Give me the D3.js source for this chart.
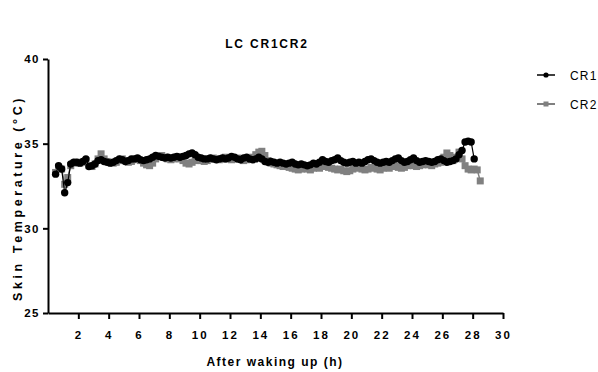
<!DOCTYPE html>
<html>
<head>
<meta charset="utf-8">
<script src="https://cdn.jsdelivr.net/npm/d3@7"></script>
<style>
  body { margin: 0; background: #fff; }
  svg { font-family: "Liberation Sans", Arial, sans-serif; }
</style>
</head>
<body>
<svg width="598" height="372"></svg>
<script>
// samples every 0.2 h starting at 0.5 h after waking
const startHour = 0.5;
const stepHour = 0.2;

const cr1 = [
  33.2, 33.7, 33.5, 32.1, 32.7, 33.8, 33.9, 33.9, 33.85, 33.95,
  34.1, 33.65, 33.7, 33.8, 34.0, 34.05, 33.95, 33.9, 33.85, 33.9,
  34.0, 34.1, 34.05, 33.95, 34.0, 34.1, 34.1, 34.15, 34.05, 34.0,
  34.05, 34.1, 34.2, 34.3, 34.25, 34.2, 34.15, 34.2, 34.15, 34.2,
  34.25, 34.2, 34.25, 34.3, 34.4, 34.45, 34.35, 34.2, 34.15, 34.1,
  34.1, 34.15, 34.1, 34.05, 34.1, 34.15, 34.1, 34.15, 34.25, 34.2,
  34.1, 34.05, 34.15, 34.2, 34.1, 34.05, 34.1, 34.2, 34.1, 33.95,
  33.9, 33.95, 33.9, 33.85, 33.9, 33.85, 33.8, 33.85, 33.9, 33.8,
  33.75, 33.8, 33.75, 33.7, 33.75, 33.85, 33.8, 33.9, 34.05, 33.95,
  33.9, 34.0, 34.05, 34.15, 34.0, 33.9, 33.85, 33.9, 33.95, 33.85,
  33.9, 33.85, 33.95, 34.05, 34.1, 34.0, 33.9, 33.85, 33.9, 33.95,
  33.9, 34.0, 34.1, 34.15, 34.0, 33.9, 33.95, 34.05, 34.15, 34.0,
  33.9, 33.95, 34.0, 33.95, 33.9, 33.95, 34.05, 34.1, 34.0, 33.9,
  33.95, 34.0, 34.1, 34.35, 34.6, 35.1, 35.15, 35.1, 34.1
];

const cr2 = [
  33.3, 33.6, 33.5, 32.6, 33.0, 33.7, 33.85, 33.9, 33.85, 33.9,
  34.0, 33.7, 33.65, 33.8, 34.1, 34.4, 34.1, 33.95, 33.9, 33.85,
  33.9, 34.0, 34.1, 34.0, 33.9, 33.95, 34.05, 34.1, 34.0, 33.85,
  33.75, 33.7, 33.85, 34.1, 34.25, 34.3, 34.2, 34.1, 34.05, 34.1,
  34.2, 34.1, 34.0, 33.85, 33.8, 33.9, 34.0, 34.05, 34.0, 33.95,
  34.0, 34.1, 34.15, 34.1, 34.05, 34.1, 34.2, 34.1, 34.05, 34.1,
  34.15, 34.1, 34.0, 34.05, 34.1, 34.2, 34.35, 34.5, 34.55, 34.3,
  34.0, 33.85, 33.8, 33.75, 33.7, 33.65, 33.7, 33.6, 33.55, 33.5,
  33.45, 33.5, 33.55, 33.5, 33.45, 33.55, 33.6, 33.55, 33.65, 33.7,
  33.6, 33.55, 33.5, 33.45, 33.5, 33.4, 33.35, 33.4, 33.5, 33.55,
  33.6, 33.5, 33.45, 33.5, 33.6, 33.55, 33.5, 33.45, 33.55, 33.6,
  33.55, 33.65, 33.7, 33.6, 33.55, 33.6, 33.7, 33.75, 33.7, 33.65,
  33.7, 33.75, 33.8, 33.75, 33.7, 33.8, 33.85, 33.9, 34.2, 34.45,
  34.3, 34.0, 34.2, 34.5, 34.1, 33.7, 33.5, 33.45, 33.5, 33.45,
  32.8
];

const xTicks = [2, 4, 6, 8, 10, 12, 14, 16, 18, 20, 22, 24, 26, 28, 30];
const yTicks = [25, 30, 35, 40];

const svg = d3.select('svg');
const margin = { left: 48, right: 95, top: 59, bottom: 59 };
const width = 598 - margin.left - margin.right;
const height = 372 - margin.top - margin.bottom;

const x = d3.scaleLinear().domain([0, 30]).range([margin.left, margin.left + width]);
const y = d3.scaleLinear().domain([25, 40]).range([margin.top + height, margin.top]);

const toPoints = (vals) => vals.map((v, i) => ({ h: startHour + i * stepHour, t: v }));
const line = d3.line().x((d) => x(d.h)).y((d) => y(d.t));

// x axis
const gx = svg.append('g')
  .attr('transform', 'translate(0,' + y(25) + ')')
  .call(d3.axisBottom(x).tickValues(xTicks).tickSize(6).tickSizeOuter(0).tickPadding(12));
gx.select('.domain').attr('stroke-width', 2);
gx.selectAll('.tick line').attr('stroke-width', 2);
gx.selectAll('.tick text')
  .attr('font-size', 11.5).attr('font-weight', 'bold')
  .attr('letter-spacing', '2px').attr('fill', '#000');

// y axis
const gy = svg.append('g')
  .attr('transform', 'translate(' + x(0) + ',0)')
  .call(d3.axisLeft(y).tickValues(yTicks).tickSize(5).tickSizeOuter(0).tickPadding(3));
gy.select('.domain').attr('stroke-width', 2);
gy.selectAll('.tick line').attr('stroke-width', 2);
gy.selectAll('.tick text')
  .attr('font-size', 11.5).attr('font-weight', 'bold')
  .attr('letter-spacing', '1.5px').attr('fill', '#000');

// CR2 underneath
const p2 = toPoints(cr2);
svg.append('path').datum(p2)
  .attr('d', line).attr('fill', 'none')
  .attr('stroke', '#808080').attr('stroke-width', 1.5);
svg.append('g').selectAll('rect').data(p2).join('rect')
  .attr('x', (d) => x(d.h) - 3.5).attr('y', (d) => y(d.t) - 3.5)
  .attr('width', 7).attr('height', 7).attr('fill', '#808080');

// CR1 on top
const p1 = toPoints(cr1);
svg.append('path').datum(p1)
  .attr('d', line).attr('fill', 'none')
  .attr('stroke', '#000').attr('stroke-width', 1.2);
svg.append('g').selectAll('circle').data(p1).join('circle')
  .attr('cx', (d) => x(d.h)).attr('cy', (d) => y(d.t))
  .attr('r', 3.7).attr('fill', '#000');

// title
svg.append('text')
  .attr('x', 267).attr('y', 48).attr('text-anchor', 'middle')
  .attr('font-size', 12).attr('font-weight', 'bold').attr('letter-spacing', '1.8px')
  .text('LC CR1CR2');

// axis titles
svg.append('text')
  .attr('x', 275).attr('y', 366).attr('text-anchor', 'middle')
  .attr('font-size', 12).attr('font-weight', 'bold').attr('letter-spacing', '1.5px')
  .text('After waking up (h)');

svg.append('text')
  .attr('transform', 'translate(22,198) rotate(-90)')
  .attr('text-anchor', 'middle')
  .attr('font-size', 12.5).attr('font-weight', 'bold').attr('letter-spacing', '3.6px')
  .text('Skin Temperature (°C)');

// legend
const legend = svg.append('g').attr('transform', 'translate(537,0)');
const items = [
  { name: 'CR1', color: '#000', y: 75, shape: 'circle' },
  { name: 'CR2', color: '#808080', y: 104, shape: 'square' }
];
items.forEach((it) => {
  legend.append('line')
    .attr('x1', 0).attr('x2', 18).attr('y1', it.y).attr('y2', it.y)
    .attr('stroke', it.color).attr('stroke-width', it.shape === 'circle' ? 1.5 : 2);
  if (it.shape === 'circle') {
    legend.append('circle').attr('cx', 9).attr('cy', it.y).attr('r', 2.6).attr('fill', it.color);
  } else {
    legend.append('rect').attr('x', 6.5).attr('y', it.y - 2.5).attr('width', 5).attr('height', 5).attr('fill', it.color);
  }
  legend.append('text')
    .attr('x', 33).attr('y', it.y + 4.5)
    .attr('font-size', 12).attr('letter-spacing', '1.2px')
    .text(it.name);
});
</script>
</body>
</html>
